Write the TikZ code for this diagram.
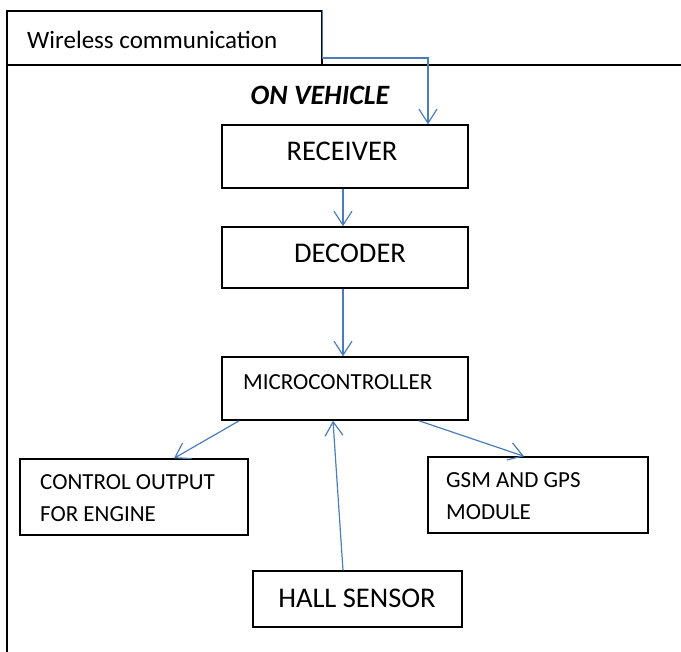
\documentclass[tikz,border=0pt]{standalone}
\usepackage{fontspec}
\setmainfont{Carlito}
\usetikzlibrary{arrows.meta,calc}
\definecolor{linkblue}{HTML}{4A7EBB}
\tikzset{
  box/.style={draw=black, line width=1.4pt, rectangle, inner sep=0pt},
  lbl/.style={inner sep=0pt, font=\fontsize{23}{32}\selectfont},
  biglbl/.style={inner sep=0pt, font=\fontsize{28.5}{32}\selectfont},
  arr/.style={draw=linkblue, line width=1.2pt,
    -{Straight Barb[length=14pt,width=18pt,line width=1.2pt]}}
}
\begin{document}
\begin{tikzpicture}[x=1pt,y=-1pt]
\useasboundingbox (0,0) rectangle (681,652);

% tab and the open frame of the vehicle section
\node[box, minimum width=315pt, minimum height=54pt] (wl) at (164.5,38) {};
\node[lbl, anchor=west, font=\fontsize{25}{28}\selectfont] (wltext) at (27,40) {Wireless communication};
\coordinate (frameTL) at (7,65);
\coordinate (frameTR) at (681,65);
\coordinate (frameBL) at (7,652);
\draw[line width=1.4pt] (frameTR) -- (frameTL) -- (frameBL);

\node[inner sep=0pt, font=\fontsize{28}{30}\selectfont\bfseries\itshape] (onv) at (320,95) {ON VEHICLE};

% blocks
\node[box, minimum width=246pt, minimum height=63pt] (rx) at (345,156.5) {};
\node[biglbl] (rxtext) at (342,151) {RECEIVER};

\node[box, minimum width=246pt, minimum height=61pt] (dec) at (345,257.5) {};
\node[biglbl] (dectext) at (350,253) {DECODER};

\node[box, minimum width=246pt, minimum height=63pt] (mc) at (345,388.5) {};
\node[lbl, anchor=west] (mctext) at (243,382) {MICROCONTROLLER};

\node[box, minimum width=228pt, minimum height=76pt] (ctl) at (134,497) {};
\node[lbl, anchor=north west, align=left] (ctltext) at (40,474) {CONTROL OUTPUT\\FOR ENGINE};

\node[box, minimum width=220pt, minimum height=76pt] (gsm) at (538,495) {};
\node[lbl, anchor=north west, align=left] (gsmtext) at (446,472) {GSM AND GPS\\MODULE};

\node[box, minimum width=209pt, minimum height=56pt] (hall) at (357.5,599) {};
\node[biglbl] (halltext) at (357,598) {HALL SENSOR};

% connectors
\coordinate (tap) at (428,58);
\draw[arr] (wl.north east) |- (tap) -- (tap |- rx.north);
\draw[arr] ($(rx.south)+(-2,0)$) -- ($(dec.north)+(-2,0)$);
\draw[arr] ($(dec.south)+(-2,0)$) -- ($(mc.north)+(-2,0)$);
\draw[arr] ($(mc.south west)+(18,0)$) -- ($(ctl.north)+(40,0)$);
\draw[arr] ($(mc.south east)+(-50,0)$) -- ($(gsm.north)+(-14,0)$);
\draw[arr] ($(hall.north)+(-14.5,0)$) -- ($(mc.south)+(-12,0)$);
\end{tikzpicture}
\end{document}
